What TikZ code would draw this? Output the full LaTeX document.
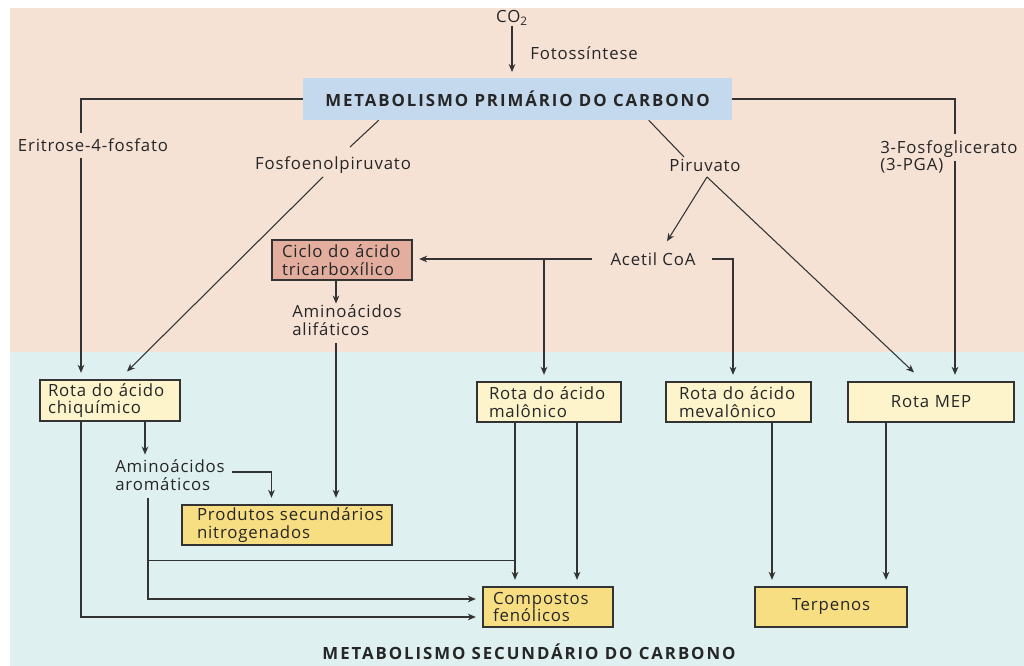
\documentclass[tikz,border=0pt]{standalone}
\usepackage{fontspec}
\setmainfont{Open Sans}[LetterSpace=5]
\newfontfamily\titlefont{Open Sans}[LetterSpace=11.5]
\usetikzlibrary{arrows.meta,calc}
\definecolor{peach}{HTML}{F6E2D5}
\definecolor{cyanbg}{HTML}{DEF0F0}
\definecolor{primblue}{HTML}{C4D8EE}
\definecolor{pinkbox}{HTML}{E4AE9F}
\definecolor{lightyel}{HTML}{FDF4CC}
\definecolor{darkyel}{HTML}{F7DE82}
\definecolor{edge}{HTML}{333333}
\definecolor{txt}{HTML}{262626}
\newcommand{\nf}{\fontsize{12.6}{13}\selectfont}
\begin{document}
\begin{tikzpicture}[x=0.75pt,y=-0.75pt,
  every node/.style={font=\nf, text=txt},
  lbl/.style={inner sep=0pt, align=left},
  bx/.style={draw=edge, line width=0.8pt, inner ysep=0pt, minimum height=30pt},
  ln/.style={draw=edge, line width=0.8pt},
  arr/.style={ln, -{Stealth[length=6pt,width=5pt]}},
  arrb/.style={arr, shorten >=5pt}]
\useasboundingbox (0,0) rectangle (1024,666);
\fill[white] (0,0) rectangle (1024,666);
\fill[peach] (10,8) rectangle (1024,352);
\fill[cyanbg] (10,352) rectangle (1024,666);

% labels
\node[lbl] (co2) at (512,18) {CO\textsubscript{2}};
\node[lbl, anchor=west] (foto) at (530,53) {Fotossíntese};
\node[fill=primblue, inner sep=0pt, minimum width=321.75pt, minimum height=31.5pt,
      font=\titlefont\nf\bfseries] (prim) at (517.5,99) {METABOLISMO PRIMÁRIO DO CARBONO};
\node[lbl] (eri) at (93,145) {Eritrose-4-fosfato};
\node[lbl] (fosfo) at (333,165) {Fosfoenolpiruvato};
\node[lbl] (piru) at (705,165) {Piruvato};
\node[lbl, anchor=west] (pga) at (880,157) {3-Fosfoglicerato\\(3-PGA)};
\node[lbl] (acetil) at (653,259) {Acetil CoA};
\node[lbl, anchor=west] (alif) at (292,320) {Aminoácidos\\alifáticos};
\node[lbl, anchor=west] (arom) at (115,475) {Aminoácidos\\aromáticos};
\node[lbl, font=\titlefont\nf\bfseries] (sec) at (529,652) {METABOLISMO SECUNDÁRIO DO CARBONO};

% boxes
\node[bx, fill=pinkbox, text width=90pt, inner xsep=7.5pt, align=left] (ciclo) at (342,260) {\mbox{Ciclo do ácido}\\\mbox{tricarboxílico}};
\node[bx, fill=lightyel, text width=93pt, inner xsep=6pt, minimum height=30.75pt, align=left] (chiq) at (110,400.5) {\mbox{Rota do ácido}\\chiquímico};
\node[bx, fill=lightyel, text width=90pt, inner xsep=9pt, align=left] (malo) at (549,402) {\mbox{Rota do ácido}\\malônico};
\node[bx, fill=lightyel, text width=89.25pt, inner xsep=9.75pt, align=left] (meva) at (738.5,402) {\mbox{Rota do ácido}\\mevalônico};
\node[bx, fill=lightyel, text width=124.5pt, inner xsep=0pt, align=center] (mep) at (931,402) {Rota MEP};
\node[bx, fill=darkyel, text width=135pt, inner xsep=11.25pt, align=left] (prod) at (287,525) {\mbox{Produtos secundários}\\nitrogenados};
\node[bx, fill=darkyel, text width=82.5pt, inner xsep=7.5pt, align=left] (comp) at (548,607) {Compostos\\fenólicos};
\node[bx, fill=darkyel, text width=114pt, inner xsep=0pt, align=center] (terp) at (831,607) {Terpenos};

% helper coordinates
\coordinate (xL) at (81,0);
\coordinate (xA) at ($(ciclo.south)+(-6,0)$);
\coordinate (xB) at ($(chiq.south)+(35,0)$);
\coordinate (xC) at ($(arom.south west)+(33,0)$);
\coordinate (xM1) at ($(malo.south)+(-34,0)$);
\coordinate (xM2) at ($(malo.south)+(28,0)$);
\coordinate (xV) at ($(meva.south)+(33.5,0)$);
\coordinate (xP) at ($(mep.south)+(-45,0)$);
\coordinate (xG) at ($(mep.north)+(24,0)$);

% connectors
\draw[arr] (co2.south) -- (512,72);
\draw[ln] (prim.west) -| (81,133);
\draw[arrb] (81,158) -- (xL |- chiq.north);
\draw[ln] ($(prim.south west)+(76,0)$) -- (350,147);
\draw[arr] (323,177) -- ($(chiq.north)+(17,-8)$);
\draw[ln] ($(prim.south west)+(346,0)$) -- (684,157);
\draw[arr] (707,177) -- ($(acetil.north)+(14,-11)$);
\draw[arr] (707,177) -- ($(mep.north)+(-17,-9)$);
\draw[arrb] ($(acetil.west)+(-18,0)$) -- (ciclo.east |- acetil.west);
\draw[arrb] ($(acetil.west -| xM1)+(29,0)$) -- ($(malo.north)+(-5,0)$);
\draw[arrb] ($(acetil.east)+(16,0)$) -| ($(meva.north)+(-5.5,0)$);
\draw[ln] (prim.east) -| ($(xG |- pga.north)+(0,-6)$);
\draw[arrb] ($(xG |- pga.center)+(0,4)$) -- (xG);
\draw[arr] (xA) -- ++(0,23);
\draw[arrb] ($(xA |- alif.south)+(0,8)$) -- (xA |- prod.north);
\draw[arr] (xB) -- ++(0,33);
\draw[arrb] ($(arom.east)+(7,-3)$) -| ($(prod.north west)+(90,0)$);
\draw[arrb] ($(xC)+(0,8)$) |- ($(comp.west)+(0,-8)$);
\draw[ln] ($(xC |- comp.north)+(0,-26)$) -- ($(xM1 |- comp.north)+(0,-26)$);
\draw[arrb] (xM1) -- (xM1 |- comp.north);
\draw[arrb] (xM2) -- (xM2 |- comp.north);
\draw[arrb] (xL |- chiq.south) |- ($(comp.west)+(0,10)$);
\draw[arrb] (xV) -- (xV |- terp.north);
\draw[arrb] (xP) -- (xP |- terp.north);
\end{tikzpicture}
\end{document}
